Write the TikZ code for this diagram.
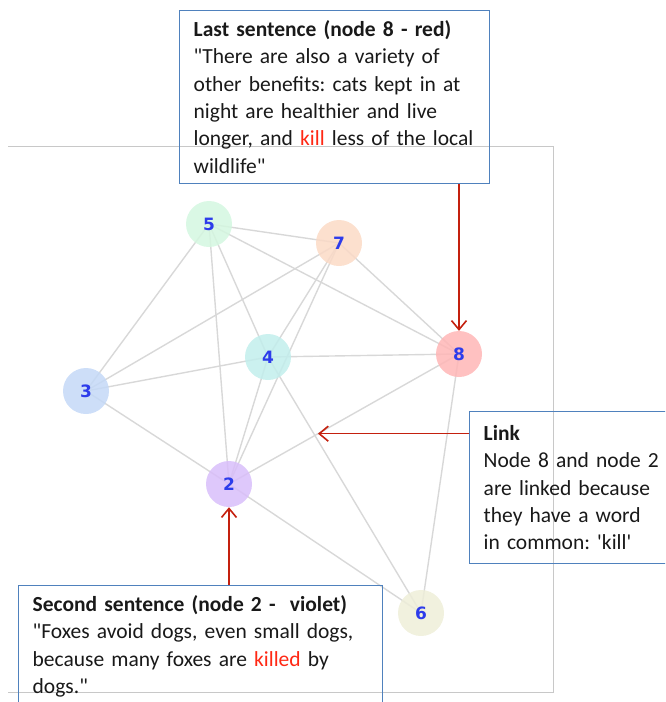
\documentclass[tikz,border=0pt]{standalone}
\usepackage{fontspec}
\usepackage{xcolor}
\newfontfamily\boxfont{Carlito}
\newfontfamily\numfont{DejaVu Sans}
\usetikzlibrary{arrows.meta, positioning, calc}

\definecolor{lineGray}{RGB}{216,216,216}
\definecolor{frameGray}{RGB}{200,200,200}
\definecolor{boxBlue}{RGB}{79,129,189}
\definecolor{arrowRed}{RGB}{196,32,14}
\definecolor{wordRed}{RGB}{255,40,20}
\definecolor{textBlack}{RGB}{25,25,25}
\definecolor{numBlue}{RGB}{45,60,235}
\definecolor{fillTwo}{RGB}{216,190,250}
\definecolor{fillThree}{RGB}{196,216,247}
\definecolor{fillFour}{RGB}{194,238,236}
\definecolor{fillFive}{RGB}{212,247,224}
\definecolor{fillSix}{RGB}{238,238,216}
\definecolor{fillSeven}{RGB}{251,218,198}
\definecolor{fillEight}{RGB}{255,182,182}

\begin{document}
\begin{tikzpicture}[
            x=1pt, y=-1pt,
			>={Straight Barb[length=9pt,width=15pt]},
            sentence/.style={
				rectangle,
				anchor=north west,
				draw=boxBlue,
				line width=1.4pt,
				align=left,
				inner xsep=14pt,
				inner ysep=10pt,
				text=textBlack,
				font=\boxfont\frenchspacing\fontsize{21.5}{27.3}\selectfont
			},
            sentNode/.style={
				circle,
				minimum size=46pt,
				inner sep=0pt,
				fill opacity=0.85,
				text opacity=1,
				text=numBlue,
				font=\numfont\bfseries\fontsize{17}{17}\selectfont
			},
            simLine/.style={
				draw=lineGray,
				line width=1.4pt
			},
            callout/.style={
				draw=arrowRed,
				line width=1.6pt,
				->
			}
        ]

        \clip (0,0) rectangle (665,702);

        % frame of the graph view
        \draw [draw=frameGray, line width=1pt] (8,146) -| (553,692) -- (8,692);

        \coordinate (pos2) at (229,484);
        \coordinate (pos3) at (86,391);
        \coordinate (pos4) at (268,357);
        \coordinate (pos5) at (209,224);
        \coordinate (pos6) at (421,613);
        \coordinate (pos7) at (339,243);
        \coordinate (pos8) at (459,354);

        \draw [simLine] (pos5) -- (pos7);
        \draw [simLine] (pos5) -- (pos3);
        \draw [simLine] (pos5) -- (pos2);
        \draw [simLine] (pos5) -- (pos4);
        \draw [simLine] (pos5) -- (pos8);
        \draw [simLine] (pos7) -- (pos8);
        \draw [simLine] (pos7) -- (pos3);
        \draw [simLine] (pos7) -- (pos4);
        \draw [simLine] (pos7) -- (pos2);
        \draw [simLine] (pos4) -- (pos2);
        \draw [simLine] (pos4) -- (pos3);
        \draw [simLine] (pos4) -- (pos8);
        \draw [simLine] (pos4) -- (pos6);
        \draw [simLine] (pos8) -- coordinate[pos=0.613] (linkPoint) (pos2);
        \draw [simLine] (pos8) -- (pos6);
        \draw [simLine] (pos3) -- (pos2);
        \draw [simLine] (pos2) -- (pos6);

        \node (node2) [sentNode, fill=fillTwo] at (pos2) {2};
        \node (node3) [sentNode, fill=fillThree] at (pos3) {3};
        \node (node4) [sentNode, fill=fillFour] at (pos4) {4};
        \node (node5) [sentNode, fill=fillFive] at (pos5) {5};
        \node (node6) [sentNode, fill=fillSix] at (pos6) {6};
        \node (node7) [sentNode, fill=fillSeven] at (pos7) {7};
        \node (node8) [sentNode, fill=fillEight] at (pos8) {8};

        \node (lastSentence) [sentence, text width=282pt] at (179,10)
            {\textbf{Last sentence (node 8 - red)}\\
             "There are also a variety of\\
             other benefits: cats kept in at\\
             night are healthier and live\\
             longer, and \textcolor{wordRed}{kill} less of the local\\
             wildlife"};
        \node (linkNote) [sentence, text width=180pt, minimum height=152pt] at (469,411)
            {\textbf{Link}\\
             Node 8 and node 2\\
             are linked because\\
             they have a word\\
             in common: 'kill'};
        \node (secondSentence) [sentence, text width=336pt] at (18,585)
            {\textbf{Second sentence (node 2 -~ violet)}\\
             "Foxes avoid dogs, even small dogs,\\
             because many foxes are \textcolor{wordRed}{killed} by\\
             dogs."};

        \draw [callout] (lastSentence.south -| node8) -- (node8.north);
        \draw [callout] (linkNote.west |- linkPoint) -- (linkPoint);
        \draw [callout] (secondSentence.north -| node2) -- (node2.south);

        \end{tikzpicture}
\end{document}
